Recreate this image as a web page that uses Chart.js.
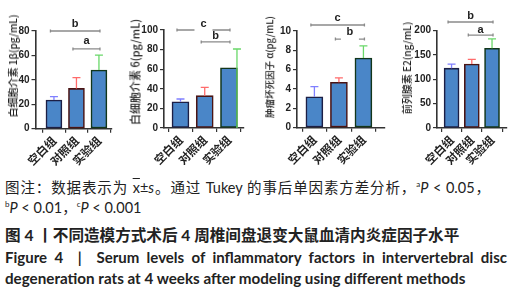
<!DOCTYPE html>
<html><head><meta charset="utf-8">
<script src="https://cdn.jsdelivr.net/npm/chart.js@4.4.1/dist/chart.umd.min.js"></script>
<style>
html,body{margin:0;padding:0;background:#fff;width:522px;height:300px;overflow:hidden;position:relative;}
canvas{position:absolute;top:0;}
.yt{position:absolute;white-space:nowrap;transform:translate(-50%,-50%) rotate(-90deg);font-family:'Noto Sans CJK SC',sans-serif;color:#222;font-weight:500;line-height:1;}
.cap{position:absolute;left:5px;white-space:nowrap;color:#222;font-family:'Lato','Noto Sans CJK SC',sans-serif;line-height:20px;height:20px;}
.cap sup{font-size:8px;line-height:0;vertical-align:6px;}
.just{text-align:justify;text-align-last:justify;white-space:normal;}
</style></head><body>
<canvas id="c1" width="125" height="175" style="left:0px"></canvas>
<canvas id="c2" width="133" height="175" style="left:125px"></canvas>
<canvas id="c3" width="132" height="175" style="left:258px"></canvas>
<canvas id="c4" width="132" height="175" style="left:390px"></canvas>
<div id="titles"></div>
<div class="cap just" style="top:178px;font-size:14.5px;width:485px">图注：数据表示为 <span style="text-decoration:overline">x</span>±<i>s</i>。通过 Tukey 的事后单因素方差分析，<sup>a</sup><i>P</i> &lt; 0.05，</div>
<div class="cap" style="top:198px;font-size:14.5px"><sup>b</sup><i>P</i> &lt; 0.01，<sup>c</sup><i>P</i> &lt; 0.001</div>
<div class="cap" style="top:225px;font-size:15.6px;font-weight:700">图 4 丨不同造模方式术后 4 周椎间盘退变大鼠血清内炎症因子水平</div>
<div class="cap just" style="top:247px;font-size:15px;font-weight:700;width:502px">Figure 4 &nbsp;| &nbsp;Serum levels of inflammatory factors in intervertebral disc</div>
<div class="cap" style="top:268px;font-size:15.2px;font-weight:700">degeneration rats at 4 weeks after modeling using different methods</div>
<script>
// ---- data ----
const groups = ['空白组', '对照组', '实验组'];

const il1bTitle = '白细胞介素 1β(pg/mL)';
const il1bMean = [23.5, 33, 48];
const il1bSD = [2.7, 8.8, 12.3];
const il1bTicks = [0, 20, 40, 60, 80];
const il1bSig = [[0, 2, 'b'], [1, 2, 'a']];

const il6Title = '白细胞介素 6(pg/mL)';
const il6Mean = [26.8, 33, 61.5];
const il6SD = [2.8, 8.5, 19.1];
const il6Ticks = [0, 20, 40, 60, 80, 100];
const il6Sig = [[0, 2, 'c'], [1, 2, 'b']];

const tnfTitle = '肿瘤坏死因子 α(pg/mL)';
const tnfMean = [3.2, 4.7, 7.2];
const tnfSD = [1.05, 0.45, 1.27];
const tnfTicks = [0, 2, 4, 6, 8, 10];
const tnfSig = [[0, 2, 'c'], [1, 2, 'b']];

const pge2Title = '前列腺素 E2(ng/mL)';
const pge2Mean = [123, 131.5, 164];
const pge2SD = [8.5, 9.5, 19];
const pge2Ticks = [0, 50, 100, 150, 200];
const pge2Sig = [[0, 2, 'b'], [1, 2, 'a']];

// ---- styles / layout ----
const barFill = '#4a86c8';
const barBorders = ['#1c1f45', '#4a1414', '#12361a'];
const errColors = ['#8080ff', '#ff6b6b', '#6ad86a'];

const panels = [
  {id:'c1', left:0, width:125, axisX:35.5, right:112, top:31, bottom:128.7, xmin:-0.82, xmax:2.58, barW:16,
   title:il1bTitle, titleX:13, titleY:66, titleSize:10, mean:il1bMean, sd:il1bSD, ticks:il1bTicks, sig:il1bSig,
   sigLv:[[80, 85.7], [65.3, 72]], gap:[0, 0], errOff:[0, 0, 0]},
  {id:'c2', left:125, width:133, axisX:164, right:244, top:30, bottom:128, xmin:-0.68, xmax:2.62, barW:17,
   title:il6Title, titleX:135, titleY:72, titleSize:11, mean:il6Mean, sd:il6SD, ticks:il6Ticks, sig:il6Sig,
   sigLv:[[100, 106], [87.8, 93.9]], gap:[18, 0], errOff:[0, 0, 8]},
  {id:'c3', left:258, width:132, axisX:297, right:385, top:31, bottom:127.7, xmin:-0.71, xmax:2.88, barW:17,
   title:tnfTitle, titleX:270, titleY:67, titleSize:9.5, mean:tnfMean, sd:tnfSD, ticks:tnfTicks, sig:tnfSig,
   sigLv:[[10.62, 11.34], [9.17, 9.9]], gap:[0, 18], errOff:[0, 0, 0]},
  {id:'c4', left:390, width:132, axisX:437, right:507, top:30.7, bottom:128, xmin:-0.72, xmax:2.74, barW:15,
   title:pge2Title, titleX:407, titleY:68, titleSize:10, mean:pge2Mean, sd:pge2SD, ticks:pge2Ticks, sig:pge2Sig,
   sigLv:[[217.9, 230], [191, 201]], gap:[0, 0], errOff:[0, 0, 0]}
];

const annot = {
  id: 'annot',
  afterDatasetsDraw(chart, args, opts) {
    const p = opts.panel;
    if (!p) return;
    const {ctx} = chart; const x = chart.scales.x, y = chart.scales.y;
    ctx.save();
    p.mean.forEach((m, i) => {
      const cx = x.getPixelForValue(i) + p.errOff[i];
      const y0 = p.errOff[i] ? y.getPixelForValue(0) : y.getPixelForValue(m);
      const y1 = y.getPixelForValue(m + p.sd[i]);
      ctx.strokeStyle = errColors[i]; ctx.lineWidth = 1.3;
      ctx.beginPath();
      ctx.moveTo(cx, y0); ctx.lineTo(cx, y1);
      ctx.moveTo(cx - 4, y1); ctx.lineTo(cx + 4, y1);
      ctx.stroke();
    });
    p.sig.forEach((s, k) => {
      const [a, b, mark] = s; const [lv, tv] = p.sigLv[k];
      const xa = x.getPixelForValue(a) - 4, xb = x.getPixelForValue(b) + 1.5;
      const yl = y.getPixelForValue(lv), yt = y.getPixelForValue(tv);
      const mid = (xa + xb) / 2, g = p.gap[k] / 2;
      ctx.strokeStyle = '#8a8a8a'; ctx.lineWidth = 1.3;
      ctx.beginPath();
      if (g) { ctx.moveTo(xa, yl); ctx.lineTo(mid - g, yl); ctx.moveTo(mid + g, yl); ctx.lineTo(xb, yl); }
      else { ctx.moveTo(xa, yl); ctx.lineTo(xb, yl); }
      ctx.moveTo(xa + 0.5, yl - 1.5); ctx.lineTo(xa + 0.5, yl + 1.5);
      ctx.moveTo(xb - 0.5, yl - 1.5); ctx.lineTo(xb - 0.5, yl + 1.5);
      ctx.stroke();
      ctx.fillStyle = '#222'; ctx.font = 'bold 11px "Liberation Sans", sans-serif';
      ctx.textAlign = 'center'; ctx.textBaseline = 'middle';
      ctx.fillText(mark, mid, yt);
    });
    ctx.restore();
  }
};

const titlesDiv = document.getElementById('titles');
panels.forEach(p => {
  const t = document.createElement('div');
  t.className = 'yt'; t.textContent = p.title;
  t.style.left = p.titleX + 'px'; t.style.top = p.titleY + 'px'; t.style.fontSize = p.titleSize + 'px';
  titlesDiv.appendChild(t);

  const H = 175;
  new Chart(document.getElementById(p.id), {
    type: 'bar',
    data: {
      datasets: [{
        data: p.mean.map((v, i) => ({x: i, y: v})),
        backgroundColor: barFill,
        borderColor: barBorders,
        borderWidth: 1.6,
        borderSkipped: false,
        barThickness: p.barW
      }]
    },
    options: {
      responsive: false, animation: false, devicePixelRatio: 1,
      layout: {padding: {left: 0, top: p.top, right: p.left + p.width - p.right, bottom: 0}},
      plugins: {legend: {display: false}, tooltip: {enabled: false}, annot: {panel: p}},
      scales: {
        x: {
          type: 'linear', min: p.xmin, max: p.xmax, offset: false,
          afterBuildTicks: s => { s.ticks = groups.map((g, i) => ({value: i})); },
          afterFit: s => { s.height = H - p.bottom; },
          ticks: {
            callback: v => groups[v], minRotation: 45, maxRotation: 45, autoSkip: false,
            color: '#222', padding: 1,
            font: {family: '"Noto Sans CJK SC", sans-serif', size: 11.5, weight: 'bold'}
          },
          grid: {drawOnChartArea: false, drawTicks: true, tickLength: 4, color: '#333', lineWidth: 1.2},
          border: {display: true, color: '#333', width: 1.6}
        },
        y: {
          min: p.ticks[0], max: p.ticks[p.ticks.length - 1],
          afterBuildTicks: s => { s.ticks = p.ticks.map(v => ({value: v})); },
          afterFit: s => { s.width = p.axisX - p.left; },
          ticks: {color: '#222', padding: 2, font: {family: '"Liberation Sans", sans-serif', size: 10, weight: 'bold'}},
          grid: {drawOnChartArea: false, drawTicks: true, tickLength: 4, color: '#333', lineWidth: 1.2},
          border: {display: true, color: '#333', width: 1.6}
        }
      }
    },
    plugins: [annot]
  });
});
</script>
</body></html>
